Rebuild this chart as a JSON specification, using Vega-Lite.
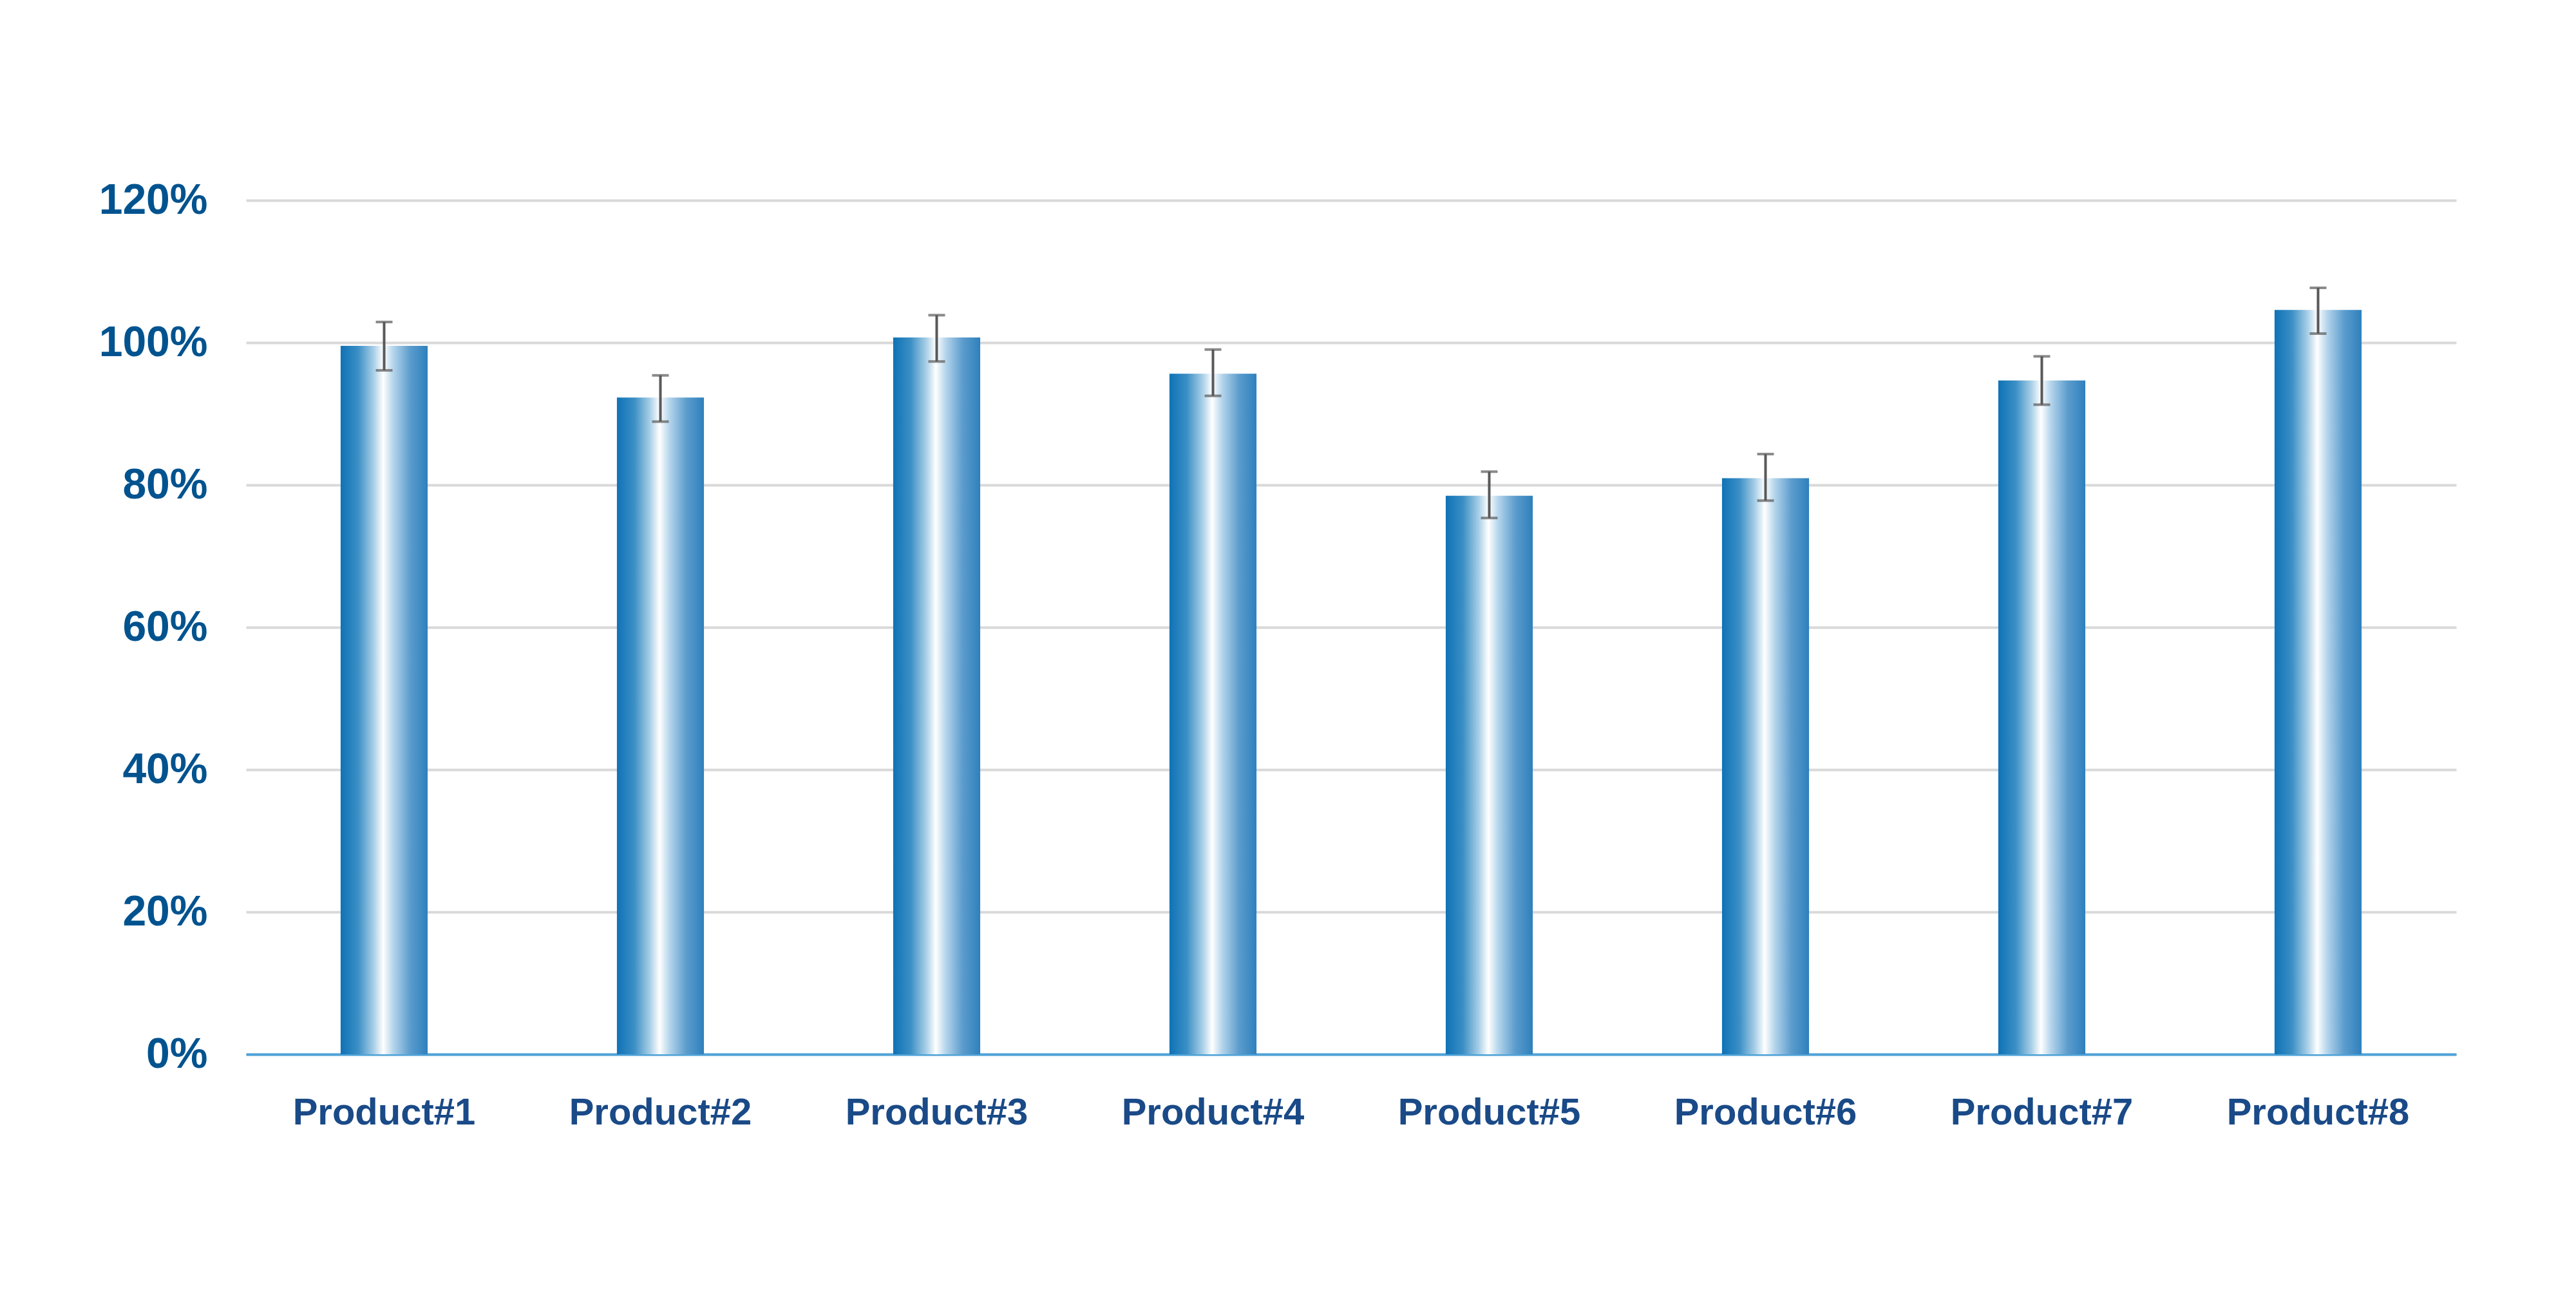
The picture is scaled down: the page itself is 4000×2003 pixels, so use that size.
{
  "$schema": "https://vega.github.io/schema/vega-lite/v6.json",
  "background": "white",
  "autosize": {"type": "none"},
  "padding": {"left": 382, "top": 311, "right": 186, "bottom": 366},
  "width": 3432,
  "height": 1326,
  "data": {
    "values": [
      {"product": "Product#1", "value": 0.9955, "lo": 0.961, "hi": 1.029},
      {"product": "Product#2", "value": 0.9228, "lo": 0.889, "hi": 0.954},
      {"product": "Product#3", "value": 1.0072, "lo": 0.9735, "hi": 1.0386},
      {"product": "Product#4", "value": 0.9563, "lo": 0.9252, "hi": 0.9903},
      {"product": "Product#5", "value": 0.7849, "lo": 0.7536, "hi": 0.8187},
      {"product": "Product#6", "value": 0.8094, "lo": 0.778, "hi": 0.8434},
      {"product": "Product#7", "value": 0.9469, "lo": 0.9128, "hi": 0.9807},
      {"product": "Product#8", "value": 1.046, "lo": 1.0127, "hi": 1.077}
    ]
  },
  "encoding": {
    "x": {
      "field": "product",
      "type": "nominal",
      "sort": null,
      "scale": {"paddingInner": 0.685, "paddingOuter": 0.3425},
      "axis": {
        "title": null,
        "labelAngle": 0,
        "labelLimit": 0,
        "labelFont": "Liberation Sans",
        "labelFontWeight": "bold",
        "labelFontSize": 58,
        "labelColor": "#1a4a87",
        "labelPadding": 62,
        "ticks": false,
        "domainColor": "#4ea3d9",
        "domainWidth": 4,
        "grid": false
      }
    }
  },
  "layer": [
    {
      "mark": {
        "type": "bar",
        "color": {
          "gradient": "linear",
          "x1": 0, "x2": 1, "y1": 0, "y2": 0,
          "stops": [
            {"offset": 0, "color": "#0f72b6"},
            {"offset": 0.2, "color": "#3b8fc5"},
            {"offset": 0.38, "color": "#a9cfe7"},
            {"offset": 0.49, "color": "#ffffff"},
            {"offset": 0.6, "color": "#b7d6ec"},
            {"offset": 0.8, "color": "#5b9ccd"},
            {"offset": 1, "color": "#2e80bd"}
          ]
        }
      },
      "encoding": {
        "y": {
          "field": "value",
          "type": "quantitative",
          "scale": {"domain": [0, 1.2], "nice": false},
          "axis": {
            "title": null,
            "values": [0, 0.2, 0.4, 0.6, 0.8, 1.0, 1.2],
            "format": ".0%",
            "labelFont": "Liberation Sans",
            "labelFontWeight": "bold",
            "labelFontSize": 66,
            "labelColor": "#00538f",
            "labelPadding": 60,
            "ticks": false,
            "domain": false,
            "grid": true,
            "gridColor": "#d9d9d9",
            "gridWidth": 4
          }
        }
      }
    },
    {
      "mark": {"type": "rule", "color": "#595959", "strokeWidth": 4},
      "encoding": {
        "y": {"field": "lo", "type": "quantitative"},
        "y2": {"field": "hi"}
      }
    },
    {
      "mark": {"type": "tick", "color": "#595959", "size": 26, "thickness": 4, "orient": "horizontal"},
      "encoding": {
        "y": {"field": "lo", "type": "quantitative"}
      }
    },
    {
      "mark": {"type": "tick", "color": "#595959", "size": 26, "thickness": 4, "orient": "horizontal"},
      "encoding": {
        "y": {"field": "hi", "type": "quantitative"}
      }
    }
  ],
  "config": {
    "view": {"stroke": null}
  }
}
